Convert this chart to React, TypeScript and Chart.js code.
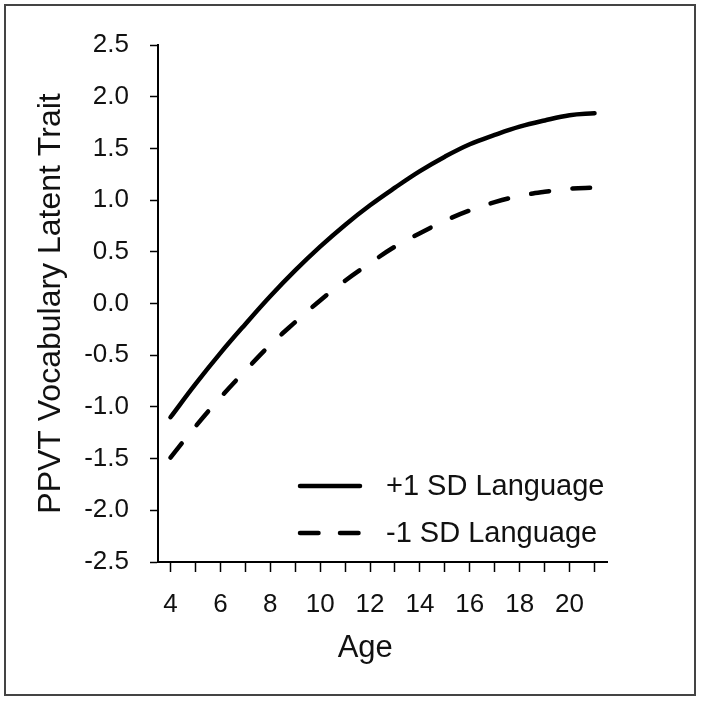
import { useEffect, useRef } from "react";
import { Chart, registerables } from "chart.js";

Chart.register(...registerables);

const ages = [4, 5, 6, 7, 8, 9, 10, 11, 12, 13, 14, 15, 16, 17, 18, 19, 20, 21];
const plusOneSD = [-1.1, -0.78, -0.48, -0.2, 0.07, 0.32, 0.55, 0.76, 0.95, 1.12, 1.28, 1.42, 1.54, 1.63, 1.71, 1.77, 1.82, 1.84];
const minusOneSD = [-1.49, -1.19, -0.91, -0.65, -0.4, -0.18, 0.03, 0.22, 0.39, 0.55, 0.68, 0.8, 0.9, 0.98, 1.04, 1.08, 1.11, 1.12];
const seriesLabels = ["+1 SD Language", "-1 SD Language"];
const yMin = -2.5;
const yMax = 2.5;
const yStep = 0.5;
const xLabelEvery = 2;

const FONT = "'Liberation Sans', Arial, Helvetica, sans-serif";

const framePlugin = {
  id: "frame",
  beforeDraw(chart: any) {
    const ctx = chart.ctx;
    ctx.save();
    ctx.fillStyle = "#ffffff";
    ctx.fillRect(0, 0, chart.width, chart.height);
    ctx.restore();
  },
  afterDraw(chart: any) {
    const ctx = chart.ctx;
    ctx.save();
    ctx.strokeStyle = "#444444";
    ctx.lineWidth = 2;
    ctx.strokeRect(5, 5, chart.width - 11, chart.height - 11);
    ctx.restore();
  },
};

const insideLegendPlugin = {
  id: "insideLegend",
  afterDatasetsDraw(chart: any) {
    const ctx = chart.ctx;
    const area = chart.chartArea;
    const x0 = area.right - 307;
    const x1 = area.right - 247;
    const textX = area.right - 221;
    const baseY = area.bottom - 76;
    const rowGap = 47;
    chart.data.datasets.forEach((ds: any, i: number) => {
      const y = baseY + i * rowGap;
      ctx.save();
      ctx.strokeStyle = ds.borderColor;
      ctx.lineWidth = ds.borderWidth;
      ctx.lineCap = ds.borderCapStyle || "butt";
      ctx.setLineDash(i === 0 ? [] : [18.5, 21.5]);
      ctx.beginPath();
      ctx.moveTo(x0, y);
      ctx.lineTo(x1, y);
      ctx.stroke();
      ctx.setLineDash([]);
      ctx.fillStyle = "#111111";
      ctx.font = `29px ${FONT}`;
      ctx.textAlign = "left";
      ctx.textBaseline = "middle";
      ctx.fillText(ds.label, textX, y + 1);
      ctx.restore();
    });
  },
};

export default function App() {
  const canvasRef = useRef<HTMLCanvasElement | null>(null);

  useEffect(() => {
    if (!canvasRef.current) return;
    const chart = new Chart(canvasRef.current, {
      type: "line",
      data: {
        labels: ages.map(String),
        datasets: [
          {
            label: seriesLabels[0],
            data: plusOneSD,
            borderColor: "#000000",
            borderWidth: 4.5,
            borderCapStyle: "round",
            pointRadius: 0,
            tension: 0.4,
            fill: false,
          },
          {
            label: seriesLabels[1],
            data: minusOneSD,
            borderColor: "#000000",
            borderWidth: 4.5,
            borderCapStyle: "round",
            borderDash: [18, 23.5],
            pointRadius: 0,
            tension: 0.4,
            fill: false,
          },
        ],
      },
      options: {
        responsive: false,
        maintainAspectRatio: false,
        animation: false,
        devicePixelRatio: 1,
        layout: { padding: { left: 0, right: 94, top: 45, bottom: 0 } },
        plugins: {
          legend: { display: false },
          tooltip: { enabled: false },
        },
        scales: {
          x: {
            type: "category",
            offset: true,
            afterFit: (scale: any) => {
              scale.height = 139;
            },
            grid: {
              offset: false,
              drawOnChartArea: false,
              drawTicks: true,
              tickLength: 10,
              tickColor: "#000000",
              tickWidth: 1.5,
            },
            border: { display: true, color: "#000000", width: 2 },
            ticks: {
              autoSkip: false,
              maxRotation: 0,
              minRotation: 0,
              padding: 17,
              color: "#111111",
              font: { family: FONT, size: 26 },
              callback: (_v: any, idx: number) =>
                ages[idx] % xLabelEvery === 0 ? String(ages[idx]) : "",
            },
            title: {
              display: true,
              text: "Age    ",
              color: "#111111",
              font: { family: FONT, size: 31 },
              padding: { top: 0, bottom: 34 },
            },
          },
          y: {
            type: "linear",
            min: yMin,
            max: yMax,
            afterFit: (scale: any) => {
              scale.width = 158;
            },
            grid: {
              drawOnChartArea: false,
              drawTicks: true,
              tickLength: 8,
              tickColor: "#000000",
              tickWidth: 1.5,
            },
            border: { display: true, color: "#000000", width: 2 },
            ticks: {
              stepSize: yStep,
              padding: 21,
              color: "#111111",
              font: { family: FONT, size: 26 },
              callback: (v: any) => Number(v).toFixed(1),
            },
            title: {
              display: true,
              text: "PPVT Vocabulary Latent Trait",
              color: "#111111",
              font: { family: FONT, size: 32 },
              padding: { top: 32, bottom: 0 },
            },
          },
        },
      },
      plugins: [framePlugin, insideLegendPlugin],
    });
    return () => chart.destroy();
  }, []);

  return (
    <div style={{ position: "fixed", left: 0, top: 0, width: 701, height: 701, background: "#fff" }}>
      <canvas ref={canvasRef} width={701} height={701} style={{ width: 701, height: 701, display: "block" }} />
    </div>
  );
}
